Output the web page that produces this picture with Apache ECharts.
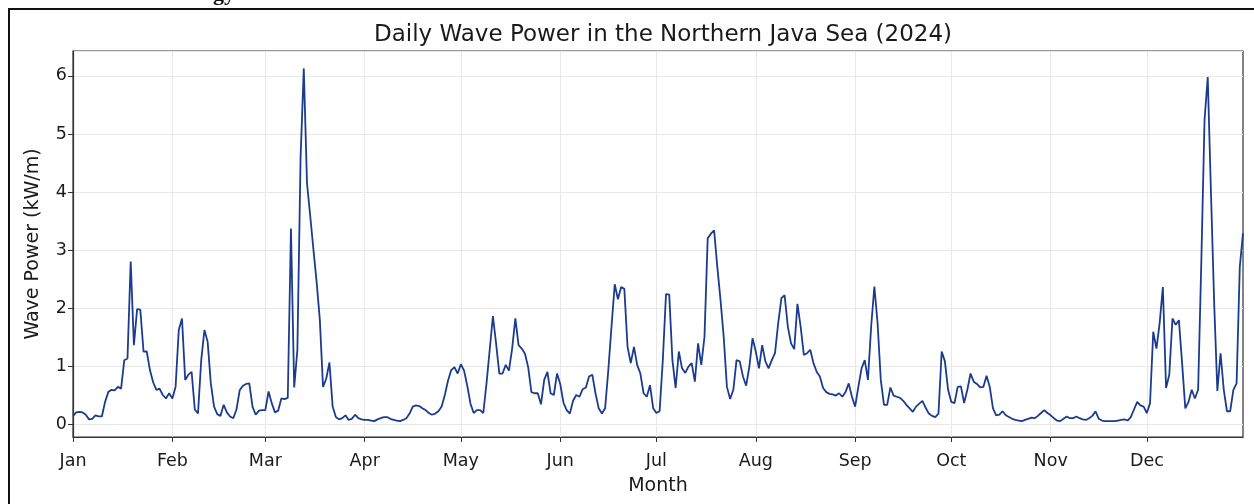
<!DOCTYPE html>
<html>
<head>
<meta charset="utf-8">
<script src="https://cdn.jsdelivr.net/npm/echarts@6/dist/echarts.min.js"></script>
<style>
html,body{margin:0;padding:0;background:#fff;}
#chart{width:1254px;height:504px;}
</style>
</head>
<body>
<div id="chart"></div>
<script>
// Daily wave power values (kW/m), one array per month of 2024
const jan = [0.14,0.20,0.21,0.20,0.16,0.08,0.09,0.15,0.13,0.13,0.38,0.55,0.59,0.58,0.64,0.61,1.10,1.13,2.80,1.36,1.98,1.97,1.25,1.25,0.93,0.72,0.59,0.61,0.50,0.44,0.53];
const feb = [0.44,0.64,1.62,1.82,0.76,0.85,0.90,0.25,0.18,1.10,1.62,1.42,0.70,0.30,0.17,0.14,0.33,0.20,0.13,0.10,0.25,0.58,0.66,0.69,0.70,0.30,0.16,0.23,0.24];
const mar = [0.24,0.56,0.36,0.20,0.23,0.44,0.43,0.45,3.37,0.63,1.28,4.60,6.13,4.15,3.59,3.01,2.45,1.80,0.64,0.78,1.06,0.30,0.12,0.08,0.10,0.15,0.07,0.09,0.16,0.10,0.08];
const apr = [0.07,0.07,0.06,0.05,0.08,0.10,0.12,0.12,0.09,0.07,0.06,0.05,0.07,0.10,0.18,0.30,0.32,0.31,0.27,0.24,0.19,0.16,0.18,0.22,0.30,0.50,0.75,0.93,0.98,0.87];
const may = [1.03,0.92,0.66,0.35,0.19,0.24,0.24,0.19,0.70,1.28,1.86,1.38,0.87,0.87,1.02,0.92,1.30,1.82,1.36,1.30,1.21,0.98,0.55,0.53,0.53,0.34,0.76,0.90,0.53,0.50,0.87];
const jun = [0.69,0.37,0.24,0.18,0.40,0.50,0.47,0.60,0.63,0.82,0.85,0.53,0.27,0.18,0.27,0.93,1.68,2.41,2.15,2.36,2.33,1.33,1.05,1.33,1.02,0.87,0.53,0.47,0.67,0.27];
const jul = [0.19,0.22,1.10,2.24,2.23,1.10,0.62,1.25,0.96,0.88,0.99,1.05,0.73,1.39,1.02,1.50,3.20,3.28,3.34,2.71,2.14,1.50,0.64,0.43,0.59,1.10,1.08,0.82,0.66,0.99,1.48];
const aug = [1.25,0.96,1.36,1.08,0.96,1.10,1.22,1.74,2.17,2.22,1.68,1.39,1.29,2.07,1.68,1.19,1.22,1.28,1.05,0.90,0.82,0.62,0.55,0.52,0.51,0.49,0.53,0.47,0.55,0.70,0.47];
const sep = [0.30,0.64,0.96,1.10,0.76,1.68,2.37,1.74,0.76,0.33,0.33,0.63,0.49,0.47,0.45,0.40,0.33,0.27,0.21,0.30,0.35,0.40,0.28,0.18,0.14,0.12,0.18,1.25,1.08,0.59];
const oct = [0.38,0.36,0.64,0.65,0.36,0.59,0.87,0.73,0.69,0.63,0.64,0.83,0.64,0.27,0.15,0.16,0.22,0.15,0.12,0.09,0.07,0.06,0.05,0.07,0.09,0.11,0.10,0.14,0.19,0.24,0.19];
const nov = [0.15,0.10,0.06,0.05,0.09,0.13,0.10,0.10,0.13,0.10,0.08,0.07,0.10,0.14,0.22,0.09,0.06,0.05,0.05,0.05,0.05,0.06,0.07,0.08,0.06,0.12,0.25,0.38,0.32,0.30];
const dec = [0.19,0.36,1.59,1.30,1.74,2.36,0.62,0.85,1.82,1.71,1.79,1.05,0.27,0.38,0.59,0.44,0.59,2.80,5.24,5.98,4.00,2.10,0.57,1.22,0.59,0.22,0.22,0.59,0.70,2.71,3.29];

const monthLabels = ['Jan','Feb','Mar','Apr','May','Jun','Jul','Aug','Sep','Oct','Nov','Dec'];
const yTicks = [0,1,2,3,4,5,6];

const monthly = [jan,feb,mar,apr,may,jun,jul,aug,sep,oct,nov,dec];
const values = [].concat(...monthly);
const dates = [];
monthly.forEach((m, mi) => {
  m.forEach((v, di) => {
    dates.push('2024-' + String(mi + 1).padStart(2, '0') + '-' + String(di + 1).padStart(2, '0'));
  });
});

const isMonthStart = (idx, val) => val.slice(8) === '01';
const FONT = 'DejaVu Sans';

const chart = echarts.init(document.getElementById('chart'), null, {renderer: 'canvas'});
chart.setOption({
  backgroundColor: '#ffffff',
  animation: false,
  title: {
    text: 'Daily Wave Power in the Northern Java Sea (2024)',
    left: 658, top: 19, textAlign: 'center',
    textStyle: {fontFamily: FONT, fontSize: 23, fontWeight: 'normal', color: '#1a1a1a'}
  },
  grid: {left: 73, right: 11, top: 51, bottom: 67, show: true, borderColor: '#333', borderWidth: 1.2, containLabel: false},
  xAxis: {
    type: 'category',
    data: dates,
    boundaryGap: false,
    name: 'Month',
    nameLocation: 'middle',
    nameGap: 40,
    nameTextStyle: {fontFamily: FONT, fontSize: 19, color: '#1a1a1a'},
    axisLine: {show: true, onZero: false, lineStyle: {color: '#333', width: 1.2}},
    axisTick: {show: true, interval: isMonthStart, length: 5, lineStyle: {color: '#333'}},
    axisLabel: {
      interval: isMonthStart, margin: 15,
      fontFamily: FONT, fontSize: 17.5, color: '#1a1a1a',
      formatter: (val) => monthLabels[parseInt(val.slice(5, 7), 10) - 1]
    },
    splitLine: {show: true, interval: isMonthStart, lineStyle: {color: '#e8e8e8', width: 1}}
  },
  yAxis: {
    type: 'value',
    min: -0.224, max: 6.43,
    name: 'Wave Power (kW/m)',
    nameLocation: 'middle',
    nameGap: 30,
    nameTextStyle: {fontFamily: FONT, fontSize: 19, color: '#1a1a1a'},
    axisLine: {show: true, onZero: false, lineStyle: {color: '#333', width: 1.2}},
    axisTick: {show: true, length: 5, lineStyle: {color: '#333'}},
    axisLabel: {
      margin: 6, fontFamily: FONT, fontSize: 17.5, color: '#1a1a1a',
      showMinLabel: false, showMaxLabel: false,
      formatter: (v) => yTicks.includes(v) ? String(v) : ''
    },
    splitLine: {show: true, lineStyle: {color: '#e8e8e8', width: 1}}
  },
  series: [{
    type: 'line',
    data: values,
    showSymbol: false,
    symbol: 'none',
    lineStyle: {color: '#1b3c8e', width: 1.8},
    itemStyle: {color: '#1b3c8e'}
  }],
  graphic: [
    {type: 'rect', shape: {x: 9, y: 9, width: 1300, height: 600}, style: {fill: 'none', stroke: '#111', lineWidth: 2}, silent: true},
    {type: 'text', x: 235, y: 5, style: {text: 'Energy', fontFamily: 'Liberation Serif', fontWeight: 'bold', fontSize: 22, fill: '#111', align: 'right', verticalAlign: 'bottom'}, silent: true}
  ]
});
</script>
</body>
</html>
